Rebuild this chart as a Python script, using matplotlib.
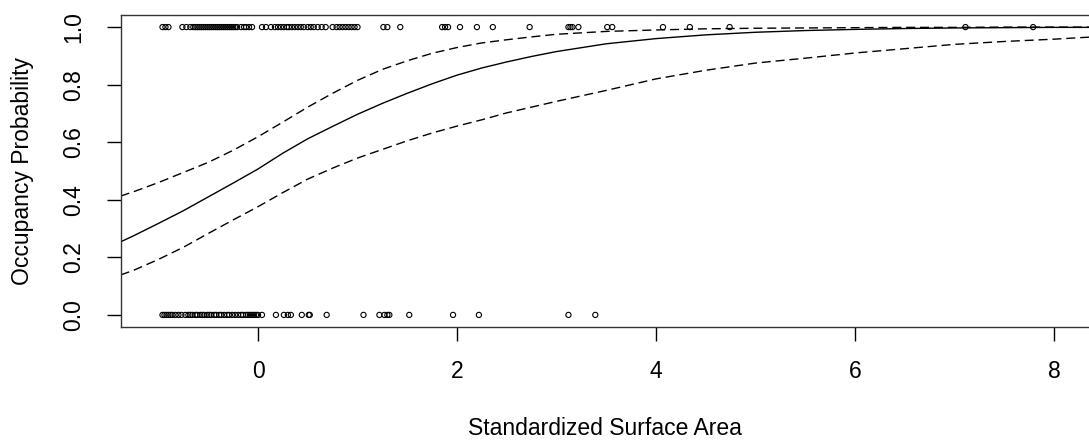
import matplotlib
matplotlib.use("Agg")
import matplotlib.pyplot as plt

# Observed data: occupied (y=1) and unoccupied (y=0) sites
x_occupied = [-0.96, -0.93, -0.90, -0.76, -0.72, -0.68, -0.65,
              -0.63, -0.61, -0.59, -0.57, -0.55, -0.53, -0.51, -0.49, -0.47, -0.45,
              -0.43, -0.41, -0.39, -0.37, -0.35, -0.33, -0.31, -0.29, -0.27, -0.25,
              -0.23, -0.21, -0.17, -0.14, -0.12, -0.09, -0.06,
              0.04, 0.08, 0.13, 0.17, 0.20, 0.23, 0.26, 0.29, 0.31, 0.34, 0.37, 0.40,
              0.43, 0.46, 0.50, 0.53, 0.56, 0.60, 0.64, 0.68, 0.75, 0.79, 0.82, 0.85,
              0.88, 0.91, 0.94, 0.97, 1.00,
              1.26, 1.30, 1.43, 1.85, 1.88, 1.91, 2.03, 2.20, 2.36, 2.73,
              3.12, 3.14, 3.16, 3.22, 3.51, 3.56, 4.07, 4.34, 4.74, 7.11, 7.79]
x_unoccupied = [-0.96, -0.94, -0.92, -0.90, -0.88, -0.86, -0.83, -0.80, -0.77, -0.73,
                -0.70, -0.68, -0.66, -0.63, -0.61, -0.58, -0.56, -0.54, -0.51, -0.49,
                -0.47, -0.44, -0.42, -0.39, -0.37, -0.34, -0.31, -0.29, -0.26, -0.23,
                -0.20, -0.17, -0.15, -0.12, -0.10, -0.08, -0.06, -0.04, -0.02, 0.00,
                0.04, 0.18, 0.26, 0.30, 0.33, 0.44, 0.51, 0.52, 0.69, 1.06, 1.22, 1.27,
                1.30, 1.32, 1.52, 1.96, 2.22, 3.12, 3.39]

# Fitted curve and confidence band
curve_x = [-1.38, -1.25, -1.0, -0.75, -0.5, -0.25, 0.0, 0.25, 0.5, 0.75, 1.0, 1.25,
           1.5, 1.75, 2.0, 2.25, 2.5, 2.75, 3.0, 3.5, 4.0, 4.5, 5.0, 5.5, 6.0, 6.5,
           7.0, 7.5, 8.0, 8.4]
fit_y = [0.254, 0.275, 0.318, 0.362, 0.410, 0.458, 0.507, 0.562, 0.612, 0.655, 0.697,
         0.735, 0.770, 0.803, 0.833, 0.858, 0.879, 0.898, 0.915, 0.942, 0.960, 0.973,
         0.982, 0.988, 0.992, 0.995, 0.997, 0.998, 0.999, 0.999]
upper_y = [0.413, 0.428, 0.460, 0.495, 0.530, 0.572, 0.619, 0.670, 0.722, 0.770, 0.815,
           0.853, 0.883, 0.909, 0.929, 0.945, 0.956, 0.966, 0.975, 0.985, 0.990, 0.994,
           0.996, 0.997, 0.998, 0.999, 0.999, 1.0, 1.0, 1.0]
lower_y = [0.139, 0.155, 0.193, 0.235, 0.283, 0.330, 0.376, 0.425, 0.472, 0.510, 0.545,
           0.575, 0.605, 0.632, 0.656, 0.678, 0.702, 0.722, 0.742, 0.780, 0.820, 0.850,
           0.875, 0.892, 0.910, 0.925, 0.940, 0.950, 0.958, 0.966]

x_ticks = [0, 2, 4, 6, 8]
y_ticks = [0.0, 0.2, 0.4, 0.6, 0.8, 1.0]

plt.rcParams['font.family'] = ['Liberation Sans', 'DejaVu Sans']

W, H = 1089, 440
fig = plt.figure(figsize=(W / 100, H / 100), dpi=100)
left, right, top, bottom = 121, 1093, 15, 327
ax = fig.add_axes([left / W, 1 - bottom / H, (right - left) / W, (bottom - top) / H])

ax.scatter(x_occupied, [1] * len(x_occupied), s=14, facecolors='none',
           edgecolors='black', linewidths=0.8, zorder=3)
ax.scatter(x_unoccupied, [0] * len(x_unoccupied), s=14, facecolors='none',
           edgecolors='black', linewidths=0.8, zorder=3)

ax.plot(curve_x, fit_y, color='black', lw=1.0)
for band in (upper_y, lower_y):
    ln, = ax.plot(curve_x, band, color='black', lw=1.0)
    ln.set_dashes((6.5, 3.5))

ax.set_xlim(-1.377, 8.392)
ax.set_ylim(-0.042, 1.042)

ax.set_xticks(x_ticks)
ax.set_xticklabels([str(t) for t in x_ticks])
ax.set_yticks(y_ticks)
ax.set_yticklabels([f"{t:.1f}" for t in y_ticks], rotation=90, va='center')

ax.tick_params(axis='both', length=10, width=1.0, labelsize=16.5, direction='out')
ax.tick_params(axis='x', pad=14)
ax.tick_params(axis='y', pad=16)
for s in ax.spines.values():
    s.set_linewidth(1.0)
    s.set_color('#333333')

fig.text((left + 1089) / 2 / W, 1 - 428 / H, 'Standardized Surface Area',
         ha='center', va='center', fontsize=16.5)
fig.text(23 / W, 1 - 171 / H, 'Occupancy Probability', rotation=90,
         ha='center', va='center', fontsize=16.5)

fig.savefig('out.png', dpi=100)
